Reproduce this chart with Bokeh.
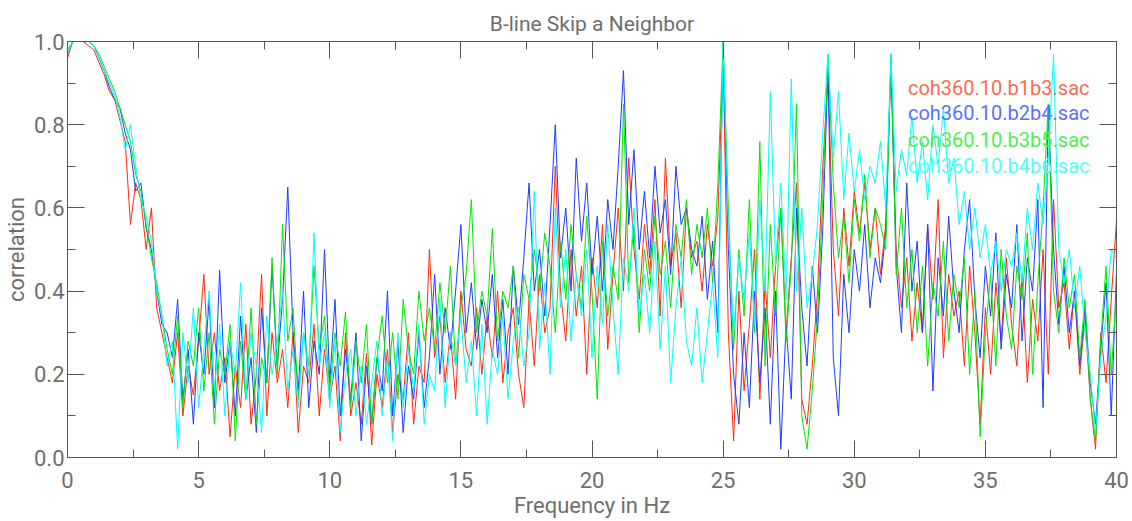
import numpy as np
from bokeh.plotting import figure
from bokeh.models import Range1d, FixedTicker, LinearAxis, Label, PrintfTickFormatter
from bokeh.embed import file_html
from bokeh.resources import INLINE

# frequency grid (Hz), 0.2 Hz spacing
freqs = [round(0.2 * i, 1) for i in range(201)]

red = [
    0.96, 1.0, 1.0, 1.0, 0.99, 0.98, 0.95, 0.92, 0.88, 0.86,
    0.81, 0.76, 0.56, 0.66, 0.62, 0.50, 0.60, 0.36, 0.30, 0.24,
    0.18, 0.30, 0.10, 0.22, 0.15, 0.28, 0.44, 0.20, 0.30, 0.16,
    0.24, 0.05, 0.22, 0.12, 0.32, 0.08, 0.20, 0.44, 0.10, 0.30,
    0.18, 0.26, 0.12, 0.30, 0.06, 0.22, 0.18, 0.32, 0.10, 0.26,
    0.14, 0.22, 0.04, 0.30, 0.10, 0.18, 0.08, 0.25, 0.03, 0.20,
    0.12, 0.26, 0.06, 0.20, 0.14, 0.30, 0.08, 0.22, 0.18, 0.50,
    0.24, 0.34, 0.18, 0.30, 0.14, 0.40, 0.26, 0.22, 0.36, 0.20,
    0.34, 0.24, 0.40, 0.18, 0.30, 0.36, 0.20, 0.12, 0.38, 0.22,
    0.44, 0.30, 0.36, 0.70, 0.40, 0.28, 0.50, 0.34, 0.46, 0.20,
    0.48, 0.36, 0.56, 0.26, 0.44, 0.60, 0.40, 0.72, 0.50, 0.38,
    0.56, 0.44, 0.62, 0.34, 0.72, 0.46, 0.54, 0.36, 0.60, 0.48,
    0.52, 0.40, 0.56, 0.46, 0.58, 0.96, 0.30, 0.04, 0.40, 0.16,
    0.32, 0.50, 0.14, 0.42, 0.24, 0.46, 0.60, 0.30, 0.48, 0.66,
    0.14, 0.08, 0.22, 0.40, 0.70, 0.92, 0.50, 0.34, 0.60, 0.46,
    0.64, 0.54, 0.66, 0.50, 0.60, 0.44, 0.56, 0.94, 0.50, 0.36,
    0.48, 0.28, 0.42, 0.30, 0.56, 0.38, 0.62, 0.24, 0.44, 0.34,
    0.40, 0.22, 0.46, 0.30, 0.08, 0.36, 0.20, 0.42, 0.28, 0.48,
    0.32, 0.22, 0.44, 0.18, 0.38, 0.28, 0.50, 0.20, 0.62, 0.36,
    0.42, 0.26, 0.40, 0.20, 0.34, 0.14, 0.02, 0.30, 0.18, 0.38,
    0.57,
]

blue = [
    0.97, 1.0, 1.0, 1.0, 1.0, 0.99, 0.96, 0.93, 0.89, 0.86,
    0.84, 0.78, 0.74, 0.64, 0.66, 0.55, 0.50, 0.40, 0.32, 0.30,
    0.24, 0.38, 0.14, 0.26, 0.08, 0.30, 0.20, 0.38, 0.12, 0.45,
    0.18, 0.28, 0.10, 0.34, 0.14, 0.24, 0.06, 0.36, 0.18, 0.46,
    0.22, 0.38, 0.65, 0.30, 0.16, 0.40, 0.12, 0.28, 0.20, 0.50,
    0.18, 0.38, 0.10, 0.26, 0.14, 0.30, 0.04, 0.22, 0.08, 0.24,
    0.16, 0.40, 0.10, 0.28, 0.06, 0.22, 0.14, 0.30, 0.12, 0.24,
    0.44, 0.20, 0.36, 0.26, 0.40, 0.56, 0.30, 0.42, 0.26, 0.38,
    0.30, 0.44, 0.24, 0.38, 0.20, 0.46, 0.32, 0.48, 0.66, 0.40,
    0.50, 0.34, 0.56, 0.80, 0.48, 0.60, 0.40, 0.72, 0.52, 0.66,
    0.44, 0.58, 0.40, 0.62, 0.50, 0.70, 0.93, 0.56, 0.74, 0.50,
    0.64, 0.48, 0.70, 0.54, 0.62, 0.44, 0.70, 0.56, 0.60, 0.50,
    0.46, 0.58, 0.38, 0.52, 0.30, 0.98, 0.50, 0.20, 0.08, 0.30,
    0.12, 0.40, 0.18, 0.36, 0.08, 0.40, 0.02, 0.32, 0.14, 0.60,
    0.36, 0.22, 0.46, 0.30, 0.55, 0.94, 0.24, 0.10, 0.44, 0.30,
    0.50, 0.40, 0.56, 0.36, 0.48, 0.42, 0.54, 0.96, 0.46, 0.30,
    0.66, 0.40, 0.52, 0.30, 0.56, 0.16, 0.48, 0.34, 0.58, 0.40,
    0.30, 0.50, 0.62, 0.38, 0.24, 0.46, 0.34, 0.54, 0.26, 0.44,
    0.36, 0.56, 0.28, 0.48, 0.40, 0.62, 0.12, 0.84, 0.50, 0.32,
    0.46, 0.30, 0.40, 0.22, 0.36, 0.18, 0.08, 0.26, 0.42, 0.10,
    0.45,
]

green = [
    0.98, 1.0, 1.0, 1.0, 1.0, 0.99, 0.97, 0.94, 0.91, 0.88,
    0.84, 0.80, 0.76, 0.68, 0.64, 0.56, 0.48, 0.42, 0.34, 0.26,
    0.20, 0.34, 0.12, 0.28, 0.22, 0.36, 0.16, 0.30, 0.08, 0.26,
    0.20, 0.32, 0.04, 0.28, 0.14, 0.36, 0.08, 0.24, 0.18, 0.48,
    0.20, 0.56, 0.28, 0.36, 0.14, 0.30, 0.22, 0.46, 0.26, 0.34,
    0.16, 0.30, 0.22, 0.35, 0.12, 0.28, 0.18, 0.32, 0.08, 0.24,
    0.34, 0.18, 0.30, 0.14, 0.38, 0.26, 0.20, 0.40, 0.28, 0.36,
    0.26, 0.42, 0.30, 0.46, 0.22, 0.36, 0.44, 0.62, 0.30, 0.40,
    0.34, 0.55, 0.28, 0.40, 0.36, 0.46, 0.24, 0.44, 0.38, 0.50,
    0.40, 0.54, 0.46, 0.30, 0.52, 0.38, 0.56, 0.44, 0.36, 0.58,
    0.40, 0.14, 0.52, 0.34, 0.46, 0.38, 0.85, 0.42, 0.56, 0.30,
    0.50, 0.40, 0.58, 0.44, 0.52, 0.36, 0.56, 0.48, 0.62, 0.44,
    0.56, 0.48, 0.60, 0.42, 0.66, 1.0, 0.60, 0.26, 0.50, 0.34,
    0.62, 0.30, 0.76, 0.22, 0.56, 0.34, 0.60, 0.28, 0.46, 0.85,
    0.10, 0.02, 0.16, 0.34, 0.62, 0.97, 0.66, 0.48, 0.58, 0.42,
    0.62, 0.52, 0.68, 0.48, 0.60, 0.56, 0.50, 0.97, 0.44, 0.60,
    0.36, 0.50, 0.30, 0.46, 0.22, 0.42, 0.34, 0.52, 0.28, 0.44,
    0.36, 0.48, 0.20, 0.40, 0.05, 0.30, 0.44, 0.22, 0.50, 0.34,
    0.26, 0.46, 0.38, 0.54, 0.20, 0.42, 0.60, 0.85, 0.40, 0.30,
    0.48, 0.36, 0.44, 0.24, 0.38, 0.14, 0.04, 0.28, 0.46, 0.20,
    0.40,
]

cyan = [
    0.97, 1.0, 1.0, 1.0, 1.0, 0.99, 0.96, 0.93, 0.90, 0.87,
    0.82, 0.74, 0.80, 0.70, 0.62, 0.58, 0.52, 0.40, 0.34, 0.22,
    0.28, 0.02, 0.30, 0.18, 0.36, 0.12, 0.26, 0.40, 0.16, 0.32,
    0.10, 0.28, 0.20, 0.42, 0.14, 0.30, 0.22, 0.06, 0.34, 0.20,
    0.28, 0.40, 0.16, 0.26, 0.12, 0.30, 0.20, 0.54, 0.22, 0.30,
    0.12, 0.28, 0.06, 0.20, 0.26, 0.10, 0.22, 0.08, 0.18, 0.28,
    0.10, 0.24, 0.04, 0.30, 0.12, 0.26, 0.16, 0.32, 0.08, 0.20,
    0.16, 0.38, 0.12, 0.30, 0.22, 0.34, 0.18, 0.28, 0.10, 0.32,
    0.08, 0.26, 0.20, 0.34, 0.14, 0.28, 0.36, 0.22, 0.30, 0.64,
    0.26, 0.42, 0.20, 0.60, 0.36, 0.50, 0.28, 0.44, 0.34, 0.50,
    0.24, 0.46, 0.32, 0.56, 0.36, 0.20, 0.48, 0.40, 0.60, 0.34,
    0.44, 0.30, 0.52, 0.26, 0.46, 0.18, 0.36, 0.48, 0.28, 0.22,
    0.36, 0.18, 0.30, 0.42, 0.24, 1.0, 0.56, 0.30, 0.48, 0.38,
    0.54, 0.32, 0.62, 0.40, 0.88, 0.46, 0.66, 0.38, 0.91, 0.40,
    0.60, 0.36, 0.44, 0.56, 0.78, 0.97, 0.72, 0.88, 0.62, 0.78,
    0.64, 0.74, 0.62, 0.70, 0.66, 0.76, 0.60, 0.97, 0.64, 0.74,
    0.68, 0.82, 0.66, 0.76, 0.62, 0.80, 0.70, 0.84, 0.66, 0.72,
    0.56, 0.64, 0.50, 0.60, 0.48, 0.56, 0.44, 0.52, 0.40, 0.50,
    0.46, 0.54, 0.42, 0.60, 0.50, 0.66, 0.56, 0.72, 0.97, 0.50,
    0.42, 0.50, 0.36, 0.46, 0.30, 0.20, 0.06, 0.24, 0.34, 0.50,
    0.48,
]

series_names = ["coh360.10.b1b3.sac", "coh360.10.b2b4.sac",
                "coh360.10.b3b5.sac", "coh360.10.b4b6.sac"]
x_ticks = [0, 5, 10, 15, 20, 25, 30, 35, 40]
x_minor = [2.5, 7.5, 12.5, 17.5, 22.5, 27.5, 32.5, 37.5]
y_ticks = [0.0, 0.2, 0.4, 0.6, 0.8, 1.0]
y_minor = [0.1, 0.3, 0.5, 0.7, 0.9]

line_colors = ["#ff2a10", "#1e3cff", "#00e600", "#00ffff"]
text_colors = ["#ff6a55", "#5a70ff", "#50ee50", "#50ffff"]

FONT = "Roboto"
GRAY = "#6e6e6e"
AX = "#555555"

p = figure(width=1132, height=521, output_backend="svg", toolbar_location=None,
           x_range=Range1d(0, 40), y_range=Range1d(0, 1),
           min_border_left=63, min_border_right=16, min_border_top=41,
           min_border_bottom=64, x_axis_location=None, y_axis_location=None,
           title="B-line Skip a Neighbor")
p.grid.visible = False
p.outline_line_color = AX
p.background_fill_color = "white"
p.border_fill_color = "white"
p.title.align = "center"
p.title.text_font = FONT
p.title.text_font_size = "21px"
p.title.text_font_style = "normal"
p.title.text_color = GRAY
p.title.standoff = 11


def style(ax):
    ax.axis_line_color = AX
    ax.major_tick_line_color = AX
    ax.minor_tick_line_color = AX
    ax.major_tick_in = 17
    ax.major_tick_out = 0
    ax.minor_tick_in = 8
    ax.minor_tick_out = 0
    ax.major_label_text_font = FONT
    ax.major_label_text_color = GRAY
    ax.major_label_text_font_size = "22px"
    ax.axis_label_text_font = FONT
    ax.axis_label_text_font_size = "22px"
    ax.axis_label_text_font_style = "normal"
    ax.axis_label_text_color = GRAY


xb = LinearAxis(ticker=FixedTicker(ticks=x_ticks, minor_ticks=x_minor),
                axis_label="Frequency in Hz")
style(xb)
xb.major_label_standoff = 14
xb.axis_label_standoff = 2
p.add_layout(xb, "below")

xt = LinearAxis(ticker=FixedTicker(ticks=x_ticks, minor_ticks=x_minor),
                major_label_overrides={t: "" for t in x_ticks})
style(xt)
p.add_layout(xt, "above")

yl = LinearAxis(ticker=FixedTicker(ticks=y_ticks, minor_ticks=y_minor),
                formatter=PrintfTickFormatter(format="%.1f"),
                axis_label="correlation")
style(yl)
yl.major_label_standoff = 3
yl.axis_label_standoff = 2
p.add_layout(yl, "left")

yr = LinearAxis(ticker=FixedTicker(ticks=y_ticks, minor_ticks=y_minor),
                major_label_overrides={t: "" for t in y_ticks})
style(yr)
p.add_layout(yr, "right")

for vals, col in zip([red, blue, green, cyan], line_colors):
    p.line(freqs, vals, line_color=col, line_width=1)

legend_y = [0.889, 0.827, 0.764, 0.700]
for name, tc, ly in zip(series_names, text_colors, legend_y):
    p.add_layout(Label(x=38.97, y=ly, text=name, text_align="right",
                       text_baseline="alphabetic", text_font=FONT,
                       text_font_size="20px", text_color=tc))

open("out.html", "w").write(file_html(p, INLINE))
